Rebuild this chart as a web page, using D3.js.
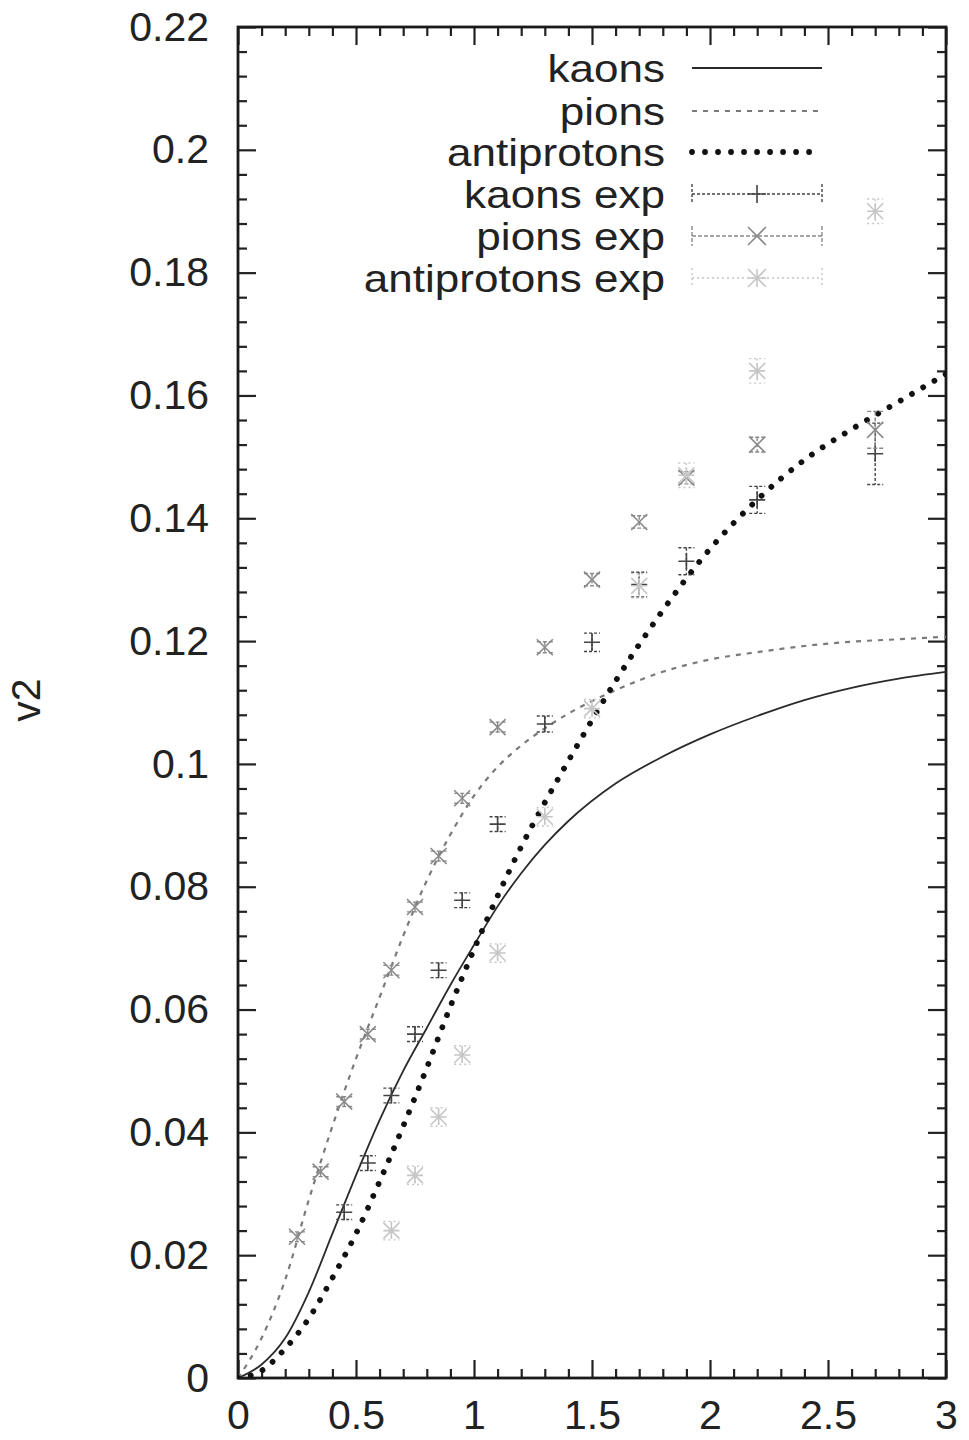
<!DOCTYPE html>
<html>
<head>
<meta charset="utf-8">
<script src="https://cdn.jsdelivr.net/npm/d3@7"></script>
<style>
  html, body { margin: 0; padding: 0; background: #fff; }
  svg { display: block; }
  text { font-family: "Liberation Sans", Arial, sans-serif; fill: #222; }
</style>
</head>
<body>
<svg id="chart" width="969" height="1440"></svg>
<script>
// model curves (pt, v2)
const curveX = [0, 0.1, 0.2, 0.3, 0.4, 0.5, 0.6, 0.7, 0.8, 0.9, 1.0, 1.1, 1.2, 1.3, 1.4, 1.6, 1.8, 2.0, 2.2, 2.4, 2.6, 2.8, 3.0];
const kaonsV = [0, 0.0022, 0.0065, 0.014, 0.0235, 0.033, 0.042, 0.050, 0.057, 0.064, 0.0705, 0.0768, 0.0822, 0.0868, 0.0907, 0.0968, 0.1012, 0.1048, 0.1078, 0.1104, 0.1124, 0.1139, 0.1150];
const pionsV = [0, 0.0065, 0.016, 0.029, 0.041, 0.052, 0.062, 0.072, 0.081, 0.0885, 0.0948, 0.0995, 0.1030, 0.1058, 0.1082, 0.1120, 0.1150, 0.1170, 0.1182, 0.1192, 0.1199, 0.1203, 0.1207];
const antiprotonsV = [0, 0.0012, 0.0048, 0.0097, 0.0163, 0.0235, 0.032, 0.041, 0.0505, 0.0605, 0.0698, 0.0785, 0.0865, 0.0937, 0.1005, 0.1135, 0.1250, 0.1350, 0.1430, 0.1495, 0.1545, 0.1590, 0.1635];

// experimental points
const kaonsExpX = [0.45, 0.55, 0.65, 0.75, 0.85, 0.95, 1.1, 1.3, 1.5, 1.7, 1.9, 2.2, 2.7];
const kaonsExpV = [0.027, 0.035, 0.046, 0.056, 0.0664, 0.0778, 0.0902, 0.1065, 0.1198, 0.1292, 0.1330, 0.1430, 0.1505];
const kaonsExpErr = [0.0012, 0.0012, 0.0012, 0.0012, 0.0012, 0.0012, 0.0012, 0.0013, 0.0015, 0.002, 0.0022, 0.0022, 0.005];

const pionsExpX = [0.25, 0.35, 0.45, 0.55, 0.65, 0.75, 0.85, 0.95, 1.1, 1.3, 1.5, 1.7, 1.9, 2.2, 2.7];
const pionsExpV = [0.023, 0.0336, 0.045, 0.056, 0.0664, 0.0767, 0.085, 0.0944, 0.106, 0.119, 0.130, 0.1394, 0.1466, 0.152, 0.1544];
const pionsExpErr = [0.0008, 0.0008, 0.0008, 0.0008, 0.0008, 0.0008, 0.0008, 0.0008, 0.0008, 0.0009, 0.001, 0.001, 0.001, 0.0012, 0.003];

const antiprotonsExpX = [0.65, 0.75, 0.85, 0.95, 1.1, 1.3, 1.5, 1.7, 1.9, 2.2, 2.7];
const antiprotonsExpV = [0.024, 0.033, 0.0425, 0.0526, 0.0692, 0.0914, 0.109, 0.129, 0.147, 0.164, 0.190];
const antiprotonsExpErr = [0.0015, 0.0015, 0.0015, 0.0015, 0.0015, 0.0015, 0.0015, 0.002, 0.002, 0.002, 0.002];

const xTicks = [0, 0.5, 1, 1.5, 2, 2.5, 3];
const xTickLabels = ["0", "0.5", "1", "1.5", "2", "2.5", "3"];
const yTicks = [0, 0.02, 0.04, 0.06, 0.08, 0.1, 0.12, 0.14, 0.16, 0.18, 0.2, 0.22];
const yTickLabels = ["0", "0.02", "0.04", "0.06", "0.08", "0.1", "0.12", "0.14", "0.16", "0.18", "0.2", "0.22"];
const yLabel = "v2";
const legendLabels = ["kaons", "pions", "antiprotons", "kaons exp", "pions exp", "antiprotons exp"];

const svg = d3.select('#chart');
const m = { left: 238, right: 946, top: 27, bottom: 1378 };

const x = d3.scaleLinear().domain([0, 3]).range([m.left, m.right]);
const y = d3.scaleLinear().domain([0, 0.22]).range([m.bottom, m.top]);

const xMinor = d3.range(0, 31).map(i => i / 10).filter(v => !xTicks.some(t => Math.abs(t - v) < 1e-9));
const yMinor = d3.range(0, 56).map(i => i * 0.004).filter(v => !yTicks.some(t => Math.abs(t - v) < 1e-9));

svg.append('rect').attr('width', 969).attr('height', 1440).attr('fill', '#fff');

// axes: ticks on all four sides, pointing inward
function styleAxis(g) {
  g.select('.domain').remove();
  g.selectAll('line').attr('stroke', '#222').attr('stroke-width', 2.2);
  g.selectAll('text').style('font-size', '41px').attr('fill', '#222');
}

svg.append('g').attr('transform', `translate(0,${m.bottom})`)
  .call(d3.axisBottom(x).tickValues(xTicks).tickFormat((d, i) => xTickLabels[i]).tickSize(-18).tickPadding(22))
  .call(styleAxis);
svg.append('g').attr('transform', `translate(0,${m.bottom})`)
  .call(d3.axisBottom(x).tickValues(xMinor).tickFormat('').tickSize(-9))
  .call(styleAxis);
svg.append('g').attr('transform', `translate(0,${m.top})`)
  .call(d3.axisTop(x).tickValues(xTicks).tickFormat('').tickSize(-18))
  .call(styleAxis);
svg.append('g').attr('transform', `translate(0,${m.top})`)
  .call(d3.axisTop(x).tickValues(xMinor).tickFormat('').tickSize(-9))
  .call(styleAxis);

svg.append('g').attr('transform', `translate(${m.left},0)`)
  .call(d3.axisLeft(y).tickValues(yTicks).tickFormat((d, i) => yTickLabels[i]).tickSize(-18).tickPadding(29))
  .call(styleAxis);
svg.append('g').attr('transform', `translate(${m.left},0)`)
  .call(d3.axisLeft(y).tickValues(yMinor).tickFormat('').tickSize(-9))
  .call(styleAxis);
svg.append('g').attr('transform', `translate(${m.right},0)`)
  .call(d3.axisRight(y).tickValues(yTicks).tickFormat('').tickSize(-18))
  .call(styleAxis);
svg.append('g').attr('transform', `translate(${m.right},0)`)
  .call(d3.axisRight(y).tickValues(yMinor).tickFormat('').tickSize(-9))
  .call(styleAxis);

svg.append('rect')
  .attr('x', m.left).attr('y', m.top)
  .attr('width', m.right - m.left).attr('height', m.bottom - m.top)
  .attr('fill', 'none').attr('stroke', '#1a1a1a').attr('stroke-width', 2.8);

svg.append('text')
  .attr('transform', `translate(40,700) rotate(-90)`)
  .attr('text-anchor', 'middle')
  .style('font-size', '41px')
  .text(yLabel);

// model curves
const line = d3.line().x(d => x(d[0])).y(d => y(d[1])).curve(d3.curveMonotoneX);

const curves = [
  { values: kaonsV, color: '#2a2a2a', width: 1.8, dash: null, cap: 'butt' },
  { values: pionsV, color: '#7a7a7a', width: 2.2, dash: '5 6', cap: 'butt' },
  { values: antiprotonsV, color: '#111', width: 5.8, dash: '0.01 13', cap: 'round' }
];

const plot = svg.append('g');
plot.append('clipPath').attr('id', 'clip')
  .append('rect').attr('x', m.left).attr('y', m.top).attr('width', m.right - m.left).attr('height', m.bottom - m.top);

curves.forEach(c => {
  plot.append('path')
    .datum(curveX.map((v, i) => [v, c.values[i]]))
    .attr('d', line)
    .attr('clip-path', 'url(#clip)')
    .attr('fill', 'none')
    .attr('stroke', c.color)
    .attr('stroke-width', c.width)
    .attr('stroke-linecap', c.cap)
    .attr('stroke-dasharray', c.dash);
});

// experimental series
function symbolPath(type, s) {
  const plus = `M${-s},0H${s}M0,${-s}V${s}`;
  const cross = `M${-s},${-s}L${s},${s}M${-s},${s}L${s},${-s}`;
  if (type === 'plus') return plus;
  if (type === 'cross') return cross;
  return plus + cross;
}

const expSeries = [
  { xs: kaonsExpX, vs: kaonsExpV, err: kaonsExpErr, color: '#444', type: 'plus', barDash: '3 2' },
  { xs: pionsExpX, vs: pionsExpV, err: pionsExpErr, color: '#8a8a8a', type: 'cross', barDash: '4 2' },
  { xs: antiprotonsExpX, vs: antiprotonsExpV, err: antiprotonsExpErr, color: '#c6c6c6', type: 'star', barDash: '2 3' }
];

expSeries.forEach(s => {
  const g = plot.append('g').attr('stroke', s.color).attr('fill', 'none');
  const pts = s.xs.map((v, i) => ({ x: v, v: s.vs[i], e: s.err[i] }));
  const pt = g.selectAll('g').data(pts).join('g')
    .attr('transform', d => `translate(${x(d.x)},${y(d.v)})`);
  pt.append('path')
    .attr('d', d => {
      const hi = y(d.v + d.e) - y(d.v), lo = y(d.v - d.e) - y(d.v);
      return `M0,${hi}V${lo}M-8,${hi}H8M-8,${lo}H8`;
    })
    .attr('stroke-width', 1.4)
    .attr('stroke-dasharray', s.barDash);
  pt.append('path')
    .attr('d', symbolPath(s.type, 8))
    .attr('stroke-width', 1.6);
});

// legend
const legendY = [68, 111, 152, 194, 236, 278];
const lx0 = 692, lx1 = 822;
const legend = svg.append('g');
legend.selectAll('text').data(legendLabels).join('text')
  .attr('transform', (d, i) => `translate(665,${legendY[i]}) scale(1.13,1)`)
  .attr('dy', '0.36em')
  .attr('text-anchor', 'end')
  .style('font-size', '39px')
  .text(d => d);

curves.forEach((c, i) => {
  legend.append('line')
    .attr('x1', lx0).attr('x2', c.cap === 'round' ? lx1 - 10 : lx1)
    .attr('y1', legendY[i]).attr('y2', legendY[i])
    .attr('stroke', c.color)
    .attr('stroke-width', c.width)
    .attr('stroke-linecap', c.cap)
    .attr('stroke-dasharray', c.dash);
});

expSeries.forEach((s, i) => {
  const ly = legendY[i + 3];
  const g = legend.append('g').attr('stroke', s.color).attr('fill', 'none');
  g.append('path')
    .attr('d', `M${lx0},${ly}H${lx1}M${lx0},${ly - 10}V${ly + 10}M${lx1},${ly - 10}V${ly + 10}`)
    .attr('stroke-width', 1.4)
    .attr('stroke-dasharray', s.barDash);
  g.append('path')
    .attr('transform', `translate(${(lx0 + lx1) / 2},${ly})`)
    .attr('d', symbolPath(s.type, 9))
    .attr('stroke-width', 1.6);
});
</script>
</body>
</html>
